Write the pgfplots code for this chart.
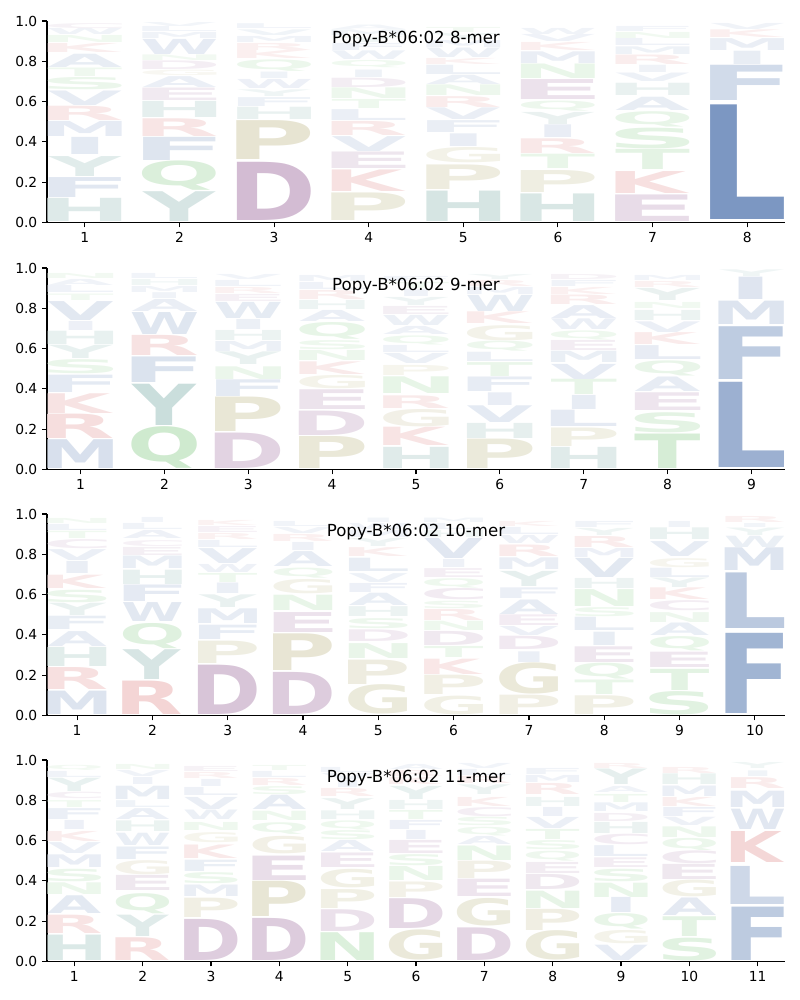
\documentclass[border=0pt]{standalone}
\usepackage{pgfplots}
\pgfplotsset{compat=1.18}
\usepackage{pgfplotstable}
\usepackage{graphicx}
\usepackage{fontspec}
\setmainfont{DejaVu Sans}
\newfontfamily\logofont{DejaVu Sans}
\definecolor{cblue}{RGB}{40,85,155}
\definecolor{cpurple}{RGB}{120,50,120}
\definecolor{colive}{RGB}{150,140,60}
\definecolor{cgreen}{RGB}{60,170,60}
\definecolor{cteal}{RGB}{40,120,110}
\definecolor{cred}{RGB}{200,50,50}
\colorlet{cA}{cblue}\colorlet{cF}{cblue}\colorlet{cI}{cblue}\colorlet{cL}{cblue}
\colorlet{cM}{cblue}\colorlet{cV}{cblue}\colorlet{cW}{cblue}
\colorlet{cC}{cpurple}\colorlet{cD}{cpurple}\colorlet{cE}{cpurple}
\colorlet{cG}{colive}\colorlet{cP}{colive}
\colorlet{cN}{cgreen}\colorlet{cQ}{cgreen}\colorlet{cS}{cgreen}\colorlet{cT}{cgreen}
\colorlet{cH}{cteal}\colorlet{cY}{cteal}
\colorlet{cK}{cred}\colorlet{cR}{cred}
\newdimen\lgW
\def\Hunit{145.6}
\newcommand\logoglyph{%
  \edef\ltr{\pgfplotspointmeta}%
  \pgfmathsetmacro\al{min(100,100*(\hh+0.04))}%
  \pgfmathsetmacro\hpt{max(0.3,\hh*\Hunit)}%
  \expandafter\dologoglyph\expandafter{\ltr}}
\newcommand\dologoglyph[1]{%
  \begingroup\logofont\fontsize{50}{50}\bfseries
  \setbox2\hbox{\kern-\XeTeXglyphbounds1 \XeTeXcharglyph`E \char`E\kern-\XeTeXglyphbounds3 \XeTeXcharglyph`E }%
  \setbox0\hbox{\color{c#1!\al!white}\kern-\XeTeXglyphbounds1 \XeTeXcharglyph`#1 \char`#1\kern-\XeTeXglyphbounds3 \XeTeXcharglyph`#1 }%
  \ifdim\wd0>\wd2 \lgW=\Wpt pt\else\lgW=\dimexpr\Wpt pt*\number\wd0/\number\wd2\relax\fi
  \resizebox*{\lgW}{\hpt pt}{\box0}%
  \endgroup}

\pgfplotstableread{
x y h l
1 0.007 0.115 H
1 0.125 0.099 F
1 0.229 0.099 Y
1 0.337 0.085 I
1 0.427 0.075 M
1 0.505 0.071 R
1 0.581 0.072 V
1 0.658 0.061 S
1 0.724 0.042 T
1 0.769 0.066 A
1 0.845 0.045 K
1 0.893 0.035 N
1 0.931 0.03 W
1 0.964 0.025 C
2 0.007 0.148 Y
2 0.158 0.146 Q
2 0.307 0.115 F
2 0.427 0.088 R
2 0.520 0.080 H
2 0.604 0.062 E
2 0.670 0.054 A
2 0.728 0.027 G
2 0.757 0.043 D
2 0.802 0.028 N
2 0.835 0.075 W
2 0.913 0.03 M
2 0.946 0.025 L
2 0.974 0.02 V
3 0.010 0.289 D
3 0.312 0.193 P
3 0.510 0.061 H
3 0.576 0.044 F
3 0.625 0.033 Y
3 0.663 0.045 W
3 0.713 0.032 I
3 0.750 0.057 Q
3 0.812 0.04 K
3 0.856 0.035 R
3 0.895 0.03 M
3 0.930 0.028 V
3 0.962 0.024 L
4 0.010 0.137 P
4 0.152 0.107 K
4 0.266 0.082 E
4 0.353 0.074 V
4 0.432 0.070 R
4 0.505 0.054 L
4 0.564 0.045 T
4 0.614 0.053 N
4 0.670 0.046 D
4 0.720 0.037 I
4 0.766 0.036 Q
4 0.807 0.043 W
4 0.855 0.035 F
4 0.894 0.03 Y
4 0.928 0.028 M
4 0.96 0.022 A
5 0.007 0.151 H
5 0.165 0.122 P
5 0.294 0.076 G
5 0.376 0.063 I
5 0.446 0.059 F
5 0.510 0.058 V
5 0.571 0.054 R
5 0.630 0.053 N
5 0.687 0.046 A
5 0.736 0.046 L
5 0.785 0.030 K
5 0.818 0.047 W
5 0.870 0.035 M
5 0.909 0.03 Y
5 0.943 0.025 T
6 0.007 0.137 H
6 0.150 0.109 P
6 0.266 0.071 T
6 0.343 0.073 R
6 0.422 0.063 I
6 0.488 0.060 Y
6 0.554 0.050 Q
6 0.609 0.099 E
6 0.713 0.072 N
6 0.790 0.058 M
6 0.852 0.04 K
6 0.896 0.035 V
6 0.934 0.03 W
7 0.007 0.132 E
7 0.145 0.109 K
7 0.261 0.100 T
7 0.366 0.103 S
7 0.475 0.076 Q
7 0.558 0.066 A
7 0.630 0.061 H
7 0.700 0.042 V
7 0.746 0.036 I
7 0.785 0.047 R
7 0.835 0.038 M
7 0.877 0.035 L
7 0.915 0.03 N
7 0.948 0.025 F
8 0.015 0.569 L
8 0.604 0.175 F
8 0.782 0.066 I
8 0.855 0.059 M
8 0.917 0.038 K
8 0.958 0.03 V
}\tA

\pgfplotstableread{
x y h l
1 0.005 0.143 M
1 0.154 0.121 R
1 0.280 0.098 K
1 0.383 0.086 F
1 0.474 0.070 S
1 0.549 0.066 Y
1 0.619 0.066 H
1 0.690 0.045 I
1 0.740 0.094 V
1 0.840 0.032 T
1 0.876 0.035 L
1 0.915 0.03 A
1 0.95 0.025 N
2 0.005 0.207 Q
2 0.220 0.205 Y
2 0.430 0.127 F
2 0.565 0.100 R
2 0.672 0.109 W
2 0.784 0.060 A
2 0.848 0.029 I
2 0.880 0.03 M
2 0.914 0.03 H
2 0.948 0.025 L
3 0.005 0.176 D
3 0.187 0.171 P
3 0.363 0.083 F
3 0.449 0.063 N
3 0.519 0.063 Y
3 0.585 0.050 M
3 0.640 0.050 H
3 0.695 0.050 I
3 0.751 0.080 W
3 0.836 0.035 E
3 0.875 0.03 R
3 0.91 0.03 L
3 0.945 0.025 V
4 0.005 0.159 P
4 0.171 0.121 D
4 0.297 0.098 E
4 0.400 0.066 G
4 0.473 0.063 K
4 0.540 0.050 N
4 0.595 0.045 S
4 0.648 0.083 Q
4 0.735 0.055 A
4 0.795 0.045 H
4 0.845 0.045 R
4 0.895 0.035 L
4 0.935 0.03 M
5 0.005 0.105 H
5 0.118 0.091 K
5 0.214 0.086 G
5 0.303 0.063 R
5 0.375 0.083 N
5 0.466 0.050 P
5 0.524 0.050 V
5 0.580 0.035 L
5 0.62 0.045 Q
5 0.67 0.04 A
5 0.715 0.05 W
5 0.77 0.04 E
5 0.815 0.04 Y
5 0.86 0.035 I
5 0.9 0.03 T
5 0.935 0.025 F
6 0.005 0.146 P
6 0.154 0.075 H
6 0.234 0.083 V
6 0.320 0.063 I
6 0.386 0.072 F
6 0.463 0.069 T
6 0.536 0.046 L
6 0.585 0.050 Q
6 0.640 0.075 G
6 0.723 0.058 K
6 0.784 0.080 W
6 0.870 0.035 M
6 0.91 0.03 R
6 0.945 0.025 Y
7 0.005 0.105 H
7 0.114 0.092 P
7 0.211 0.081 L
7 0.297 0.070 I
7 0.370 0.076 T
7 0.449 0.075 V
7 0.529 0.056 M
7 0.590 0.050 E
7 0.645 0.045 Q
7 0.695 0.053 W
7 0.750 0.064 A
7 0.817 0.047 R
7 0.87 0.035 K
7 0.91 0.03 F
7 0.945 0.025 D
8 0.005 0.171 T
8 0.184 0.100 S
8 0.292 0.088 E
8 0.386 0.072 A
8 0.466 0.075 Q
8 0.546 0.069 L
8 0.619 0.059 K
8 0.682 0.053 V
8 0.740 0.050 H
8 0.800 0.030 N
8 0.840 0.060 Y
8 0.905 0.03 R
8 0.94 0.025 M
9 0.010 0.423 L
9 0.449 0.262 F
9 0.718 0.116 M
9 0.844 0.111 I
9 0.960 0.033 Y
}\tB

\pgfplotstableread{
x y h l
1 0.005 0.116 M
1 0.128 0.109 R
1 0.242 0.095 H
1 0.342 0.074 A
1 0.425 0.066 F
1 0.496 0.061 Y
1 0.562 0.062 S
1 0.632 0.066 K
1 0.705 0.060 I
1 0.768 0.054 V
1 0.827 0.045 C
1 0.877 0.036 T
1 0.918 0.03 L
1 0.952 0.025 N
2 0.005 0.166 R
2 0.177 0.148 Y
2 0.333 0.125 Q
2 0.466 0.094 W
2 0.566 0.082 F
2 0.652 0.071 H
2 0.728 0.062 M
2 0.794 0.040 E
2 0.840 0.030 C
2 0.880 0.040 A
2 0.925 0.03 L
2 0.958 0.025 I
3 0.005 0.245 D
3 0.259 0.111 P
3 0.378 0.071 F
3 0.456 0.073 M
3 0.536 0.063 Y
3 0.605 0.052 I
3 0.662 0.045 T
3 0.710 0.040 W
3 0.756 0.074 V
3 0.835 0.035 L
3 0.875 0.03 R
3 0.91 0.03 E
3 0.945 0.025 K
4 0.005 0.209 D
4 0.221 0.182 P
4 0.413 0.099 E
4 0.519 0.076 N
4 0.602 0.071 G
4 0.681 0.050 Q
4 0.740 0.074 A
4 0.82 0.04 I
4 0.865 0.035 R
4 0.905 0.03 V
4 0.94 0.025 L
5 0.005 0.146 G
5 0.154 0.121 P
5 0.284 0.074 N
5 0.366 0.058 D
5 0.433 0.050 S
5 0.491 0.049 H
5 0.546 0.061 A
5 0.612 0.045 F
5 0.662 0.044 V
5 0.715 0.066 L
5 0.790 0.044 K
5 0.84 0.04 Y
5 0.885 0.035 M
5 0.925 0.03 W
5 0.958 0.022 I
6 0.005 0.093 G
6 0.104 0.096 P
6 0.204 0.076 K
6 0.287 0.055 T
6 0.347 0.070 D
6 0.420 0.046 N
6 0.472 0.055 R
6 0.530 0.037 S
6 0.573 0.056 C
6 0.634 0.046 Q
6 0.686 0.044 E
6 0.735 0.040 I
6 0.780 0.100 V
6 0.885 0.035 H
6 0.925 0.03 L
6 0.958 0.022 M
7 0.005 0.096 P
7 0.104 0.155 G
7 0.264 0.053 I
7 0.325 0.066 D
7 0.396 0.045 V
7 0.446 0.053 E
7 0.502 0.072 A
7 0.579 0.053 F
7 0.640 0.075 Y
7 0.723 0.058 M
7 0.790 0.057 R
7 0.855 0.04 W
7 0.9 0.035 L
7 0.94 0.025 K
8 0.005 0.093 P
8 0.104 0.072 T
8 0.180 0.079 Q
8 0.264 0.078 E
8 0.347 0.066 I
8 0.420 0.066 L
8 0.490 0.045 S
8 0.540 0.084 N
8 0.630 0.050 H
8 0.685 0.095 V
8 0.785 0.045 M
8 0.835 0.055 R
8 0.895 0.035 Y
8 0.935 0.03 F
9 0.005 0.116 S
9 0.126 0.105 T
9 0.237 0.076 E
9 0.320 0.071 Q
9 0.396 0.062 A
9 0.463 0.049 N
9 0.519 0.050 C
9 0.574 0.058 K
9 0.635 0.047 Y
9 0.685 0.046 L
9 0.735 0.045 G
9 0.790 0.074 V
9 0.872 0.058 H
9 0.935 0.03 I
10 0.010 0.398 F
10 0.430 0.276 L
10 0.718 0.113 M
10 0.834 0.056 W
10 0.893 0.037 Y
10 0.935 0.020 I
10 0.960 0.030 R
}\tC

\pgfplotstableread{
x y h l
1 0.005 0.126 H
1 0.138 0.091 R
1 0.237 0.088 A
1 0.333 0.058 N
1 0.396 0.062 S
1 0.466 0.063 M
1 0.536 0.054 V
1 0.595 0.050 K
1 0.655 0.045 I
1 0.706 0.054 F
1 0.766 0.034 T
1 0.806 0.032 C
1 0.844 0.066 Y
1 0.915 0.03 L
1 0.95 0.025 Q
2 0.005 0.113 R
2 0.124 0.106 Y
2 0.237 0.100 Q
2 0.350 0.075 E
2 0.430 0.070 G
2 0.507 0.062 F
2 0.574 0.061 W
2 0.645 0.053 H
2 0.706 0.054 A
2 0.766 0.034 L
2 0.806 0.066 M
2 0.88 0.035 I
2 0.92 0.03 V
2 0.955 0.025 N
3 0.005 0.204 D
3 0.217 0.096 P
3 0.323 0.057 M
3 0.386 0.055 S
3 0.446 0.056 F
3 0.512 0.067 K
3 0.590 0.050 G
3 0.650 0.040 N
3 0.703 0.047 W
3 0.756 0.06 V
3 0.822 0.04 L
3 0.868 0.035 I
3 0.908 0.03 R
3 0.944 0.025 E
4 0.005 0.209 D
4 0.221 0.175 P
4 0.403 0.121 E
4 0.532 0.087 G
4 0.632 0.058 Q
4 0.700 0.046 N
4 0.752 0.071 A
4 0.83 0.04 S
4 0.875 0.035 R
4 0.915 0.03 L
4 0.95 0.025 T
5 0.005 0.138 N
5 0.151 0.108 D
5 0.264 0.094 P
5 0.366 0.092 G
5 0.468 0.072 E
5 0.545 0.055 A
5 0.605 0.045 S
5 0.655 0.045 Q
5 0.705 0.043 H
5 0.756 0.054 Y
5 0.820 0.040 R
5 0.865 0.035 I
5 0.905 0.03 V
5 0.94 0.025 L
6 0.005 0.150 G
6 0.162 0.148 D
6 0.318 0.077 P
6 0.400 0.070 N
6 0.475 0.055 S
6 0.535 0.065 E
6 0.605 0.045 I
6 0.655 0.045 F
6 0.705 0.045 T
6 0.755 0.045 H
6 0.805 0.065 Y
6 0.878 0.035 K
6 0.92 0.03 R
6 0.955 0.025 A
7 0.005 0.162 D
7 0.176 0.137 G
7 0.322 0.086 E
7 0.413 0.086 P
7 0.502 0.072 N
7 0.580 0.040 A
7 0.625 0.043 Q
7 0.673 0.042 S
7 0.720 0.045 C
7 0.770 0.045 K
7 0.827 0.048 Y
7 0.882 0.035 R
7 0.922 0.03 L
7 0.957 0.025 V
8 0.005 0.146 G
8 0.154 0.105 P
8 0.264 0.086 N
8 0.355 0.075 D
8 0.436 0.055 E
8 0.500 0.049 Q
8 0.555 0.045 S
8 0.605 0.050 T
8 0.660 0.055 V
8 0.720 0.045 I
8 0.770 0.045 H
8 0.830 0.055 R
8 0.89 0.035 M
8 0.93 0.03 F
9 0.005 0.076 V
9 0.088 0.066 G
9 0.160 0.077 Q
9 0.242 0.075 I
9 0.320 0.071 N
9 0.396 0.062 S
9 0.468 0.048 E
9 0.520 0.054 L
9 0.580 0.052 C
9 0.635 0.055 H
9 0.695 0.040 D
9 0.743 0.043 M
9 0.790 0.040 T
9 0.840 0.030 A
9 0.878 0.077 Y
9 0.96 0.025 R
10 0.005 0.113 S
10 0.126 0.098 T
10 0.230 0.087 A
10 0.320 0.083 G
10 0.408 0.075 E
10 0.486 0.064 C
10 0.552 0.060 Q
10 0.615 0.053 N
10 0.675 0.041 V
10 0.720 0.045 F
10 0.770 0.045 K
10 0.820 0.052 M
10 0.877 0.053 H
10 0.935 0.03 R
11 0.005 0.265 F
11 0.285 0.189 L
11 0.491 0.154 K
11 0.655 0.101 W
11 0.766 0.081 M
11 0.860 0.054 R
11 0.920 0.028 I
11 0.960 0.030 Y
}\tD

\pgfplotsset{
  logo/.style={
    scale only axis, width=533.35pt, height=145.6pt,
    xmin=0.6, ymin=0, ymax=1,
    anchor=north west,
    axis on top,
    axis x line*=bottom, axis y line*=left,
    axis line style={line width=0.8pt, black},
    tick align=outside, major tick length=3.5pt,
    tick style={line width=0.8pt, black},
    ytick={0,0.2,0.4,0.6,0.8,1},
    yticklabel style={/pgf/number format/.cd, fixed, fixed zerofill, precision=1},
    tick label style={font=\fontsize{10}{12}\selectfont},
    /pgf/number format/assume math mode=true,
    clip=false,
  },
  logoplot/.style={
    only marks, mark=none,
    point meta=explicit symbolic,
    visualization depends on={\thisrow{h} \as \hh},
    nodes near coords={\logoglyph},
    every node near coord/.append style={anchor=south, inner sep=0pt, outer sep=0pt},
  },
}
\tikzset{logotitle/.style={anchor=base, font=\fontsize{12}{14}\selectfont, inner sep=0pt}}

\begin{document}
\begin{tikzpicture}
\path[use as bounding box] (-0.47in,0.21in) rectangle (7.53in,-9.79in);
\pgfmathsetmacro\Wpt{0.78*533.35/7.8}
\begin{axis}[logo, name=ax1, at={(0in,0in)}, xmax=8.4, xtick={1,...,8}]
\addplot[logoplot] table[x=x, y=y, meta=l] {\tA};
\end{axis}
\node[logotitle] at ([yshift=-0.22in]ax1.north) {Popy-B*06:02 8-mer};
\pgfmathsetmacro\Wpt{0.78*533.35/8.8}
\begin{axis}[logo, name=ax2, at={(0in,-2.47in)}, xmax=9.4, xtick={1,...,9}]
\addplot[logoplot] table[x=x, y=y, meta=l] {\tB};
\end{axis}
\node[logotitle] at ([yshift=-0.22in]ax2.north) {Popy-B*06:02 9-mer};
\pgfmathsetmacro\Wpt{0.78*533.35/9.8}
\begin{axis}[logo, name=ax3, at={(0in,-4.93in)}, xmax=10.4, xtick={1,...,10}]
\addplot[logoplot] table[x=x, y=y, meta=l] {\tC};
\end{axis}
\node[logotitle] at ([yshift=-0.22in]ax3.north) {Popy-B*06:02 10-mer};
\pgfmathsetmacro\Wpt{0.78*533.35/10.8}
\begin{axis}[logo, name=ax4, at={(0in,-7.39in)}, xmax=11.4, xtick={1,...,11}]
\addplot[logoplot] table[x=x, y=y, meta=l] {\tD};
\end{axis}
\node[logotitle] at ([yshift=-0.22in]ax4.north) {Popy-B*06:02 11-mer};
\end{tikzpicture}
\end{document}
